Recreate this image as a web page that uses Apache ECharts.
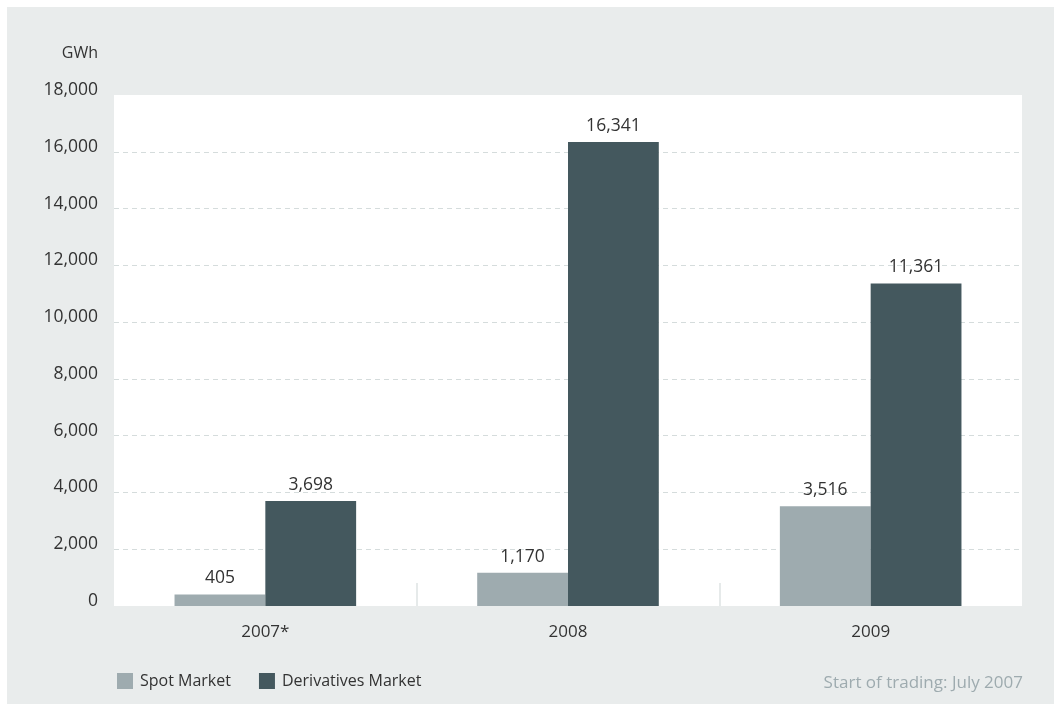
<!DOCTYPE html>
<html>
<head>
<meta charset="utf-8">
<script src="https://cdn.jsdelivr.net/npm/echarts@6/dist/echarts.min.js"></script>
<style>
  html, body { margin: 0; padding: 0; background: #ffffff; }
  #chart { position: absolute; left: 7px; top: 7px; width: 1047px; height: 697px; }
</style>
</head>
<body>
<div id="chart"></div>
<script>
// Traded volume per year, in GWh
const categories = ['2007*', '2008', '2009'];
const spotMarket = [405, 1170, 3516];
const derivativesMarket = [3698, 16341, 11361];
const seriesNames = ['Spot Market', 'Derivatives Market'];
const unitLabel = 'GWh';
const footnote = 'Start of trading: July 2007';

// Edges of the year bands; only the inner ones get a separator tick
const bandEdges = ['', '', '', ''];

const FONT = 'Open Sans';
const TEXT = '#333333';
const NUM_SIZE = 17.5;
const fmt = v => v.toLocaleString('en-US');

const chart = echarts.init(document.getElementById('chart'));
chart.setOption({
  backgroundColor: '#e9ecec',
  animation: false,
  textStyle: { fontFamily: FONT },
  grid: {
    left: 107, right: 32, top: 88, bottom: 98,
    show: true, backgroundColor: '#ffffff', borderWidth: 0
  },
  legend: {
    left: 105, bottom: 10,
    itemWidth: 16, itemHeight: 16, itemGap: 28,
    icon: 'rect',
    textStyle: { color: TEXT, fontSize: 16, fontFamily: FONT, padding: [0, 0, 0, 2] },
    data: seriesNames
  },
  graphic: [{
    type: 'text', right: 31, bottom: 12,
    style: { text: footnote, fill: '#9eabaf', font: '17px "' + FONT + '"' }
  }],
  xAxis: [
    {
      type: 'category',
      data: categories,
      axisLine: { show: false },
      axisTick: { show: false },
      axisLabel: { color: TEXT, fontSize: 17, margin: 18, fontFamily: FONT }
    },
    {
      type: 'category',
      data: bandEdges,
      position: 'bottom',
      boundaryGap: false,
      axisLine: { show: false },
      axisLabel: { show: false },
      axisTick: {
        show: true, inside: true, length: 23,
        interval: i => i > 0 && i < bandEdges.length - 1,
        lineStyle: { color: '#e6eaea', width: 2 }
      }
    }
  ],
  yAxis: {
    type: 'value',
    min: 0, max: 18000, interval: 2000,
    name: unitLabel,
    nameLocation: 'end',
    nameGap: 34,
    nameTextStyle: { color: TEXT, fontSize: 16, align: 'right', padding: [0, 16, 0, 0], fontFamily: FONT },
    axisLine: { show: false },
    axisTick: { show: false },
    axisLabel: {
      color: TEXT, fontSize: NUM_SIZE, margin: 16, fontFamily: FONT,
      verticalAlign: 'bottom', lineHeight: 10,
      formatter: v => fmt(v)
    },
    splitLine: {
      show: true,
      showMinLine: false,
      showMaxLine: false,
      lineStyle: { color: '#d5dcdc', type: [5, 4], width: 1 }
    }
  },
  series: [
    {
      name: seriesNames[0], type: 'bar', data: spotMarket,
      barWidth: '30%', barGap: '0%',
      itemStyle: { color: '#9eabaf' },
      label: { show: true, position: 'top', distance: 7, color: TEXT, fontSize: NUM_SIZE, fontFamily: FONT, formatter: p => fmt(p.value) }
    },
    {
      name: seriesNames[1], type: 'bar', data: derivativesMarket,
      barWidth: '30%', barGap: '0%',
      itemStyle: { color: '#44585e' },
      label: { show: true, position: 'top', distance: 7, color: TEXT, fontSize: NUM_SIZE, fontFamily: FONT, formatter: p => fmt(p.value) }
    }
  ]
});
</script>
</body>
</html>
